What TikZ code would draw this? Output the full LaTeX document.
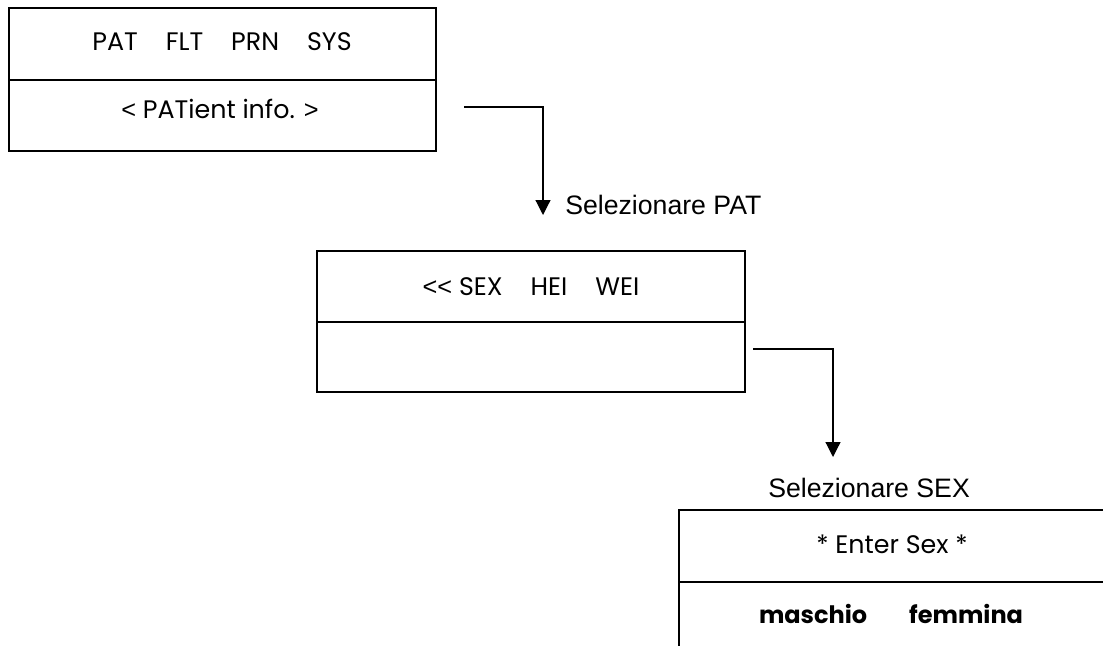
\documentclass[tikz,border=0pt]{standalone}
\usepackage{fontspec}
\setmainfont{Liberation Sans}
\newfontfamily\lcdfont{Poppins}
\usetikzlibrary{arrows.meta}

\tikzset{
  lcd/.style={inner sep=0pt, font=\lcdfont\fontsize{19}{22}\selectfont},
  lcdbold/.style={inner sep=0pt, font=\lcdfont\bfseries\fontsize{18}{22}\selectfont},
  note/.style={inner sep=0pt, font=\fontsize{20}{24}\selectfont},
  frame/.style={line width=1.1},
  link/.style={line width=0.9, -{Triangle[width=11.25pt,length=11.25pt]}},
}
\newcommand{\keygap}{\hspace{21pt}}
% wider angle brackets than the ones of the lcd font
\newcommand{\lsign}{{\rmfamily<}}
\newcommand{\gsign}{{\rmfamily>}}

\begin{document}
\begin{tikzpicture}[x=0.75pt,y=0.75pt,yscale=-1,xscale=1]
%diagram runs from (0,0) to (1103,646), the last screen is cut at the border
\clip (0,0) rectangle (1103,646);

%Shape: Rectangle [main menu]
\draw [frame] (9,8) rectangle (436,151);
\draw [frame] (9,80) -- (436,80);
%Shape: Rectangle [patient menu]
\draw [frame] (317,251) rectangle (745,392);
\draw [frame] (317,322) -- (745,322);
%Shape: Rectangle [sex entry]
\draw [frame] (679,510) rectangle (1130,700);
\draw [frame] (679,582) -- (1130,582);

% Text Node
\draw (222,50) node [lcd, anchor=base] (mainKeys) {PAT\keygap FLT\keygap PRN\keygap SYS};
% Text Node
\draw (220,118) node [lcd, anchor=base] (mainInfo) {\lsign{} PATient info. \gsign};
% Text Node
\draw (531,295) node [lcd, anchor=base] (patKeys) {\lsign\lsign{} SEX\keygap HEI\keygap WEI};
% Text Node
\draw (892,553) node [lcd, anchor=base] (sexTitle) {* Enter Sex *};
% Text Node
\draw (891,623) node [lcdbold, anchor=base] (sexKeys) {maschio\hspace{31.5pt}femmina};

%Straight Lines [main menu to patient menu]
\coordinate (mainOut) at (464,107);
\coordinate (patIn) at (543,215);
\draw [link] (mainOut) -| (patIn);
% Text Node
\draw (565,214) node [note, anchor=base west] (selPat) {Selezionare PAT};

%Straight Lines [patient menu to sex entry]
\coordinate (patOut) at (753,349);
\coordinate (sexIn) at (833,457);
\draw [link] (patOut) -| (sexIn);
% Text Node
\draw (768,497) node [note, anchor=base west] (selSex) {Selezionare SEX};
\end{tikzpicture}
\end{document}
